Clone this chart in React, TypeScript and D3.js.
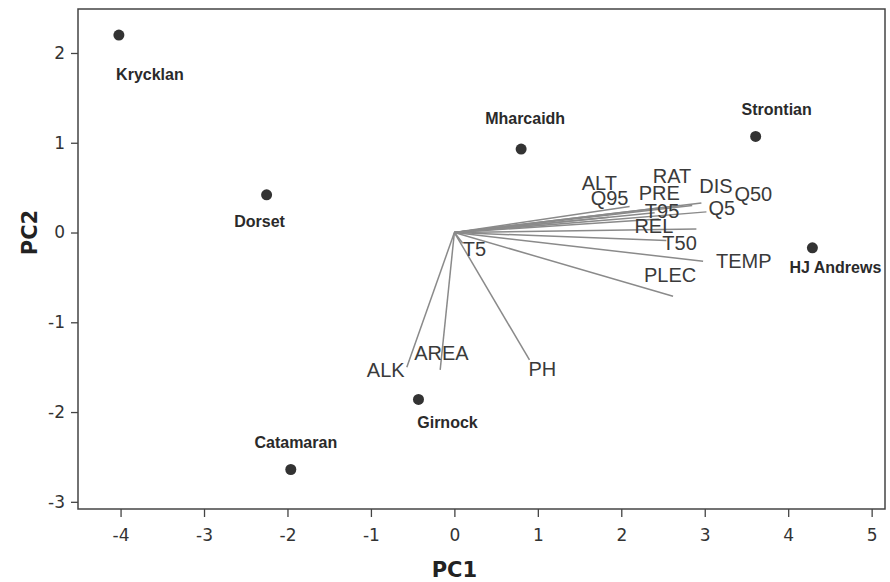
import { useEffect, useRef } from "react";
import * as d3 from "d3";

// sites (PC scores)
const siteNames = ["Krycklan", "Dorset", "Catamaran", "Mharcaidh", "Girnock", "Strontian", "HJ Andrews"];
const sitePC1 = [-4.02, -2.25, -1.96, 0.8, -0.43, 3.61, 4.29];
const sitePC2 = [2.2, 0.42, -2.64, 0.93, -1.86, 1.07, -0.17];
// where each site label sits relative to its dot (px)
const siteLabelDx = [31, -7, 5, 4, 29, 21, 23];
const siteLabelDy = [45, 32, -22, -25, 29, -21, 25];

// variable loadings (vector tips)
const varNames = ["ALT", "Q95", "RAT", "DIS", "Q50", "PRE", "T95", "Q5", "REL", "T50", "TEMP", "PLEC", "T5", "ALK", "AREA", "PH"];
const varPC1 = [1.85, 2.1, 2.7, 2.85, 2.96, 2.4, 2.45, 3.02, 2.9, 2.54, 2.98, 2.62, 0.1, -0.57, -0.17, 0.9];
const varPC2 = [0.17, 0.29, 0.3, 0.3, 0.33, 0.22, 0.15, 0.23, 0.04, -0.09, -0.32, -0.71, -0.12, -1.5, -1.53, -1.42];
const varLabelDx = [-27, -39, -27, 7, 33, -16, -14, 2, -62, -4, 13, -29, 0, -40, -26, -1];
const varLabelDy = [-27, -1, -23, -13, -2, -13, -1, 3, 4, 9, 7, -14, 13, 10, -10, 16];

const xTicks = [-4, -3, -2, -1, 0, 1, 2, 3, 4, 5];
const yTicks = [-3, -2, -1, 0, 1, 2];

export default function App() {
  const ref = useRef<SVGSVGElement>(null);

  useEffect(() => {
    const svg = d3.select(ref.current);
    svg.selectAll("*").remove();

    const x = d3.scaleLinear().domain([-4.51, 5.16]).range([78, 885]);
    const y = d3.scaleLinear().domain([-3.08, 2.49]).range([509, 9]);
    const fmt = (d: d3.NumberValue) => String(d);

    // axes
    const xAxis = svg
      .append("g")
      .attr("transform", "translate(0,509)")
      .call(d3.axisBottom(x).tickValues(xTicks).tickFormat(fmt).tickSize(8).tickPadding(12).tickSizeOuter(0));
    const yAxis = svg
      .append("g")
      .attr("transform", "translate(78,0)")
      .call(d3.axisLeft(y).tickValues(yTicks).tickFormat(fmt).tickSize(7).tickPadding(6).tickSizeOuter(0));
    [xAxis, yAxis].forEach((g) => {
      g.select(".domain").remove();
      g.selectAll("line").attr("stroke", "#444").attr("stroke-width", 1.3);
      g.selectAll("text")
        .attr("fill", "#333")
        .style("font-family", "'DejaVu Sans', sans-serif")
        .style("font-size", "17px");
    });

    // frame
    svg
      .append("rect")
      .attr("x", x.range()[0])
      .attr("y", y.range()[1])
      .attr("width", x.range()[1] - x.range()[0])
      .attr("height", y.range()[0] - y.range()[1])
      .attr("fill", "none")
      .attr("stroke", "#444")
      .attr("stroke-width", 1.5);

    // loading vectors
    const vars = varNames.map((n, i) => ({ n, px: varPC1[i], py: varPC2[i], dx: varLabelDx[i], dy: varLabelDy[i] }));
    svg
      .append("g")
      .selectAll("line")
      .data(vars)
      .join("line")
      .attr("x1", x(0))
      .attr("y1", y(0))
      .attr("x2", (d) => x(d.px))
      .attr("y2", (d) => y(d.py))
      .attr("stroke", "#8a8a8a")
      .attr("stroke-width", 1.5);
    svg
      .append("g")
      .selectAll("text")
      .data(vars)
      .join("text")
      .attr("x", (d) => x(d.px) + d.dx)
      .attr("y", (d) => y(d.py) + d.dy)
      .attr("fill", "#3a3a3a")
      .style("font-family", "'Liberation Sans', Arial, sans-serif")
      .style("font-size", "20px")
      .text((d) => d.n);

    // sites
    const sites = siteNames.map((n, i) => ({ n, px: sitePC1[i], py: sitePC2[i], dx: siteLabelDx[i], dy: siteLabelDy[i] }));
    svg
      .append("g")
      .selectAll("circle")
      .data(sites)
      .join("circle")
      .attr("cx", (d) => x(d.px))
      .attr("cy", (d) => y(d.py))
      .attr("r", 5.5)
      .attr("fill", "#333");
    svg
      .append("g")
      .selectAll("text")
      .data(sites)
      .join("text")
      .attr("x", (d) => x(d.px) + d.dx)
      .attr("y", (d) => y(d.py) + d.dy)
      .attr("text-anchor", "middle")
      .attr("fill", "#2a2a2a")
      .style("font-family", "'Liberation Sans', Arial, sans-serif")
      .style("font-size", "16px")
      .style("font-weight", "bold")
      .text((d) => d.n);

    // axis titles
    svg
      .append("text")
      .attr("x", x(0))
      .attr("y", 577)
      .attr("text-anchor", "middle")
      .attr("fill", "#222")
      .style("font-family", "'DejaVu Sans', sans-serif")
      .style("font-size", "21px")
      .style("font-weight", "bold")
      .text("PC1");
    svg
      .append("text")
      .attr("transform", `translate(37,${y(0)}) rotate(-90)`)
      .attr("text-anchor", "middle")
      .attr("fill", "#222")
      .style("font-family", "'DejaVu Sans', sans-serif")
      .style("font-size", "21px")
      .style("font-weight", "bold")
      .text("PC2");
  }, []);

  return (
    <svg
      ref={ref}
      width={890}
      height={582}
      style={{ position: "absolute", left: 0, top: 0, background: "#fff" }}
    ></svg>
  );
}
